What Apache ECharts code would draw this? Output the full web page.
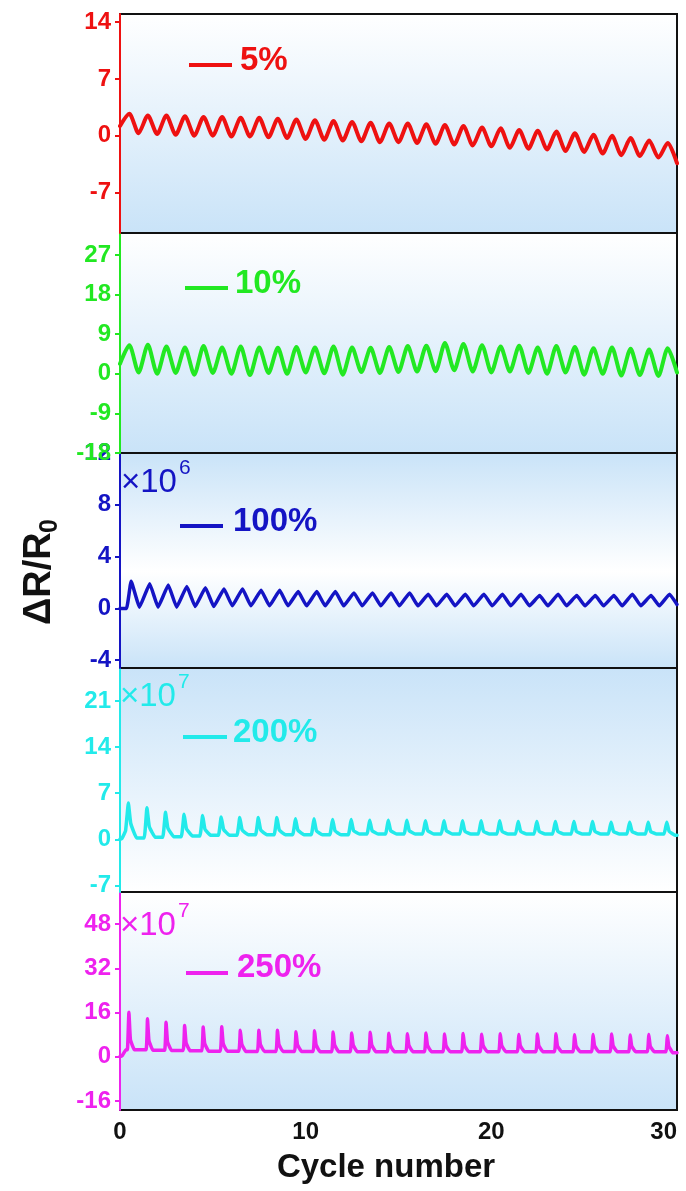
<!DOCTYPE html>
<html>
<head>
<meta charset="utf-8">
<script src="https://cdn.jsdelivr.net/npm/echarts@6/dist/echarts.min.js"></script>
<style>
  html, body { margin: 0; padding: 0; background: #ffffff; }
  #chart { width: 686px; height: 1191px; }
</style>
</head>
<body>
<div id="chart"></div>
<script>
// ---- data -------------------------------------------------------------
const cycleTicks = [0, 10, 20, 30];
const strainLabels = ['5%', '10%', '100%', '200%', '250%'];
const scaleExponents = [null, null, 6, 7, 7];

const yTicks5 = [-7, 0, 7, 14];
const yTicks10 = [-18, -9, 0, 9, 18, 27];
const yTicks100 = [-4, 0, 4, 8, 12];
const yTicks200 = [-7, 0, 7, 14, 21];
const yTicks250 = [-16, 0, 16, 32, 48];

// 5 % strain: value at start, then per-cycle peak / valley
const start5 = 1.2;
const peaks5 = [2.7, 2.5, 2.5, 2.4, 2.3, 2.3, 2.2, 2.2, 2.1, 2.0, 1.9, 1.8, 1.7, 1.6, 1.5,
                1.5, 1.4, 1.3, 1.2, 1.0, 0.9, 0.7, 0.6, 0.5, 0.3, 0.1, 0.0, -0.3, -0.6, -0.9];
const valleys5 = [0.3, 0.2, 0.1, 0.0, 0.0, -0.1, -0.1, -0.2, -0.3, -0.4, -0.5, -0.6, -0.7, -0.8, -0.8,
                  -0.9, -1.0, -1.1, -1.2, -1.3, -1.5, -1.6, -1.7, -1.9, -2.0, -2.2, -2.4, -2.5, -2.7, -3.4];

// 10 % strain
const start10 = 2.3;
const peaks10 = [6.5, 6.6, 6.2, 6.0, 6.3, 6.0, 6.2, 6.0, 5.9, 6.1, 6.0, 6.2, 6.0, 5.9, 6.1,
                 6.3, 6.4, 7.0, 6.8, 6.5, 6.2, 6.4, 6.0, 6.3, 6.1, 5.8, 6.0, 5.7, 5.5, 5.8];
const valleys10 = [0.3, 0.0, 0.2, -0.2, 0.2, 0.0, -0.3, 0.2, 0.0, 0.3, 0.1, -0.2, 0.4, 0.2, 0.4,
                   0.5, 0.6, 0.8, 0.5, 0.3, 0.5, 0.2, 0.0, 0.3, -0.2, 0.0, -0.4, -0.3, -0.5, 0.3];

// 100 % strain (x10^6)
const lead100 = [[0, 0], [0.35, 0]];
const peaks100 = [2.1, 1.9, 1.8, 1.7, 1.6, 1.5, 1.5, 1.4, 1.4, 1.3, 1.3, 1.3, 1.2, 1.2, 1.2,
                  1.2, 1.1, 1.1, 1.1, 1.1, 1.1, 1.1, 1.0, 1.1, 1.0, 1.0, 1.0, 1.1, 1.0, 1.1];
const valleys100 = [0.1, 0.1, 0.1, 0.15, 0.15, 0.2, 0.2, 0.2, 0.2, 0.2, 0.2, 0.2, 0.2, 0.2, 0.2,
                    0.2, 0.2, 0.2, 0.2, 0.2, 0.2, 0.2, 0.2, 0.2, 0.2, 0.2, 0.2, 0.2, 0.2, 0.3];

// 200 % strain (x10^7): spike, shoulder after spike, trough before next cycle
const lead200 = [[0, 0], [0.1, 0.1], [0.3, 1.3]];
const spikes200 = [5.5, 4.8, 4.1, 3.8, 3.6, 3.4, 3.3, 3.3, 3.3, 3.1, 3.1, 3.0, 3.0, 2.9, 2.9,
                   2.9, 2.8, 2.8, 2.8, 2.8, 2.8, 2.7, 2.7, 2.7, 2.7, 2.7, 2.6, 2.6, 2.6, 2.6];
const shoulders200 = [2.4, 1.9, 1.7, 1.6, 1.5, 1.5, 1.4, 1.4, 1.4, 1.4, 1.3, 1.3, 1.3, 1.3, 1.3,
                      1.3, 1.3, 1.3, 1.2, 1.2, 1.2, 1.2, 1.2, 1.2, 1.2, 1.2, 1.2, 1.2, 1.2, 1.2];
const troughs200 = [0.2, 0.3, 0.4, 0.5, 0.6, 0.6, 0.7, 0.7, 0.7, 0.7, 0.7, 0.7, 0.8, 0.8, 0.8,
                    0.8, 0.8, 0.8, 0.8, 0.8, 0.8, 0.8, 0.8, 0.8, 0.8, 0.8, 0.8, 0.8, 0.8, 0.6];

// 250 % strain (x10^7)
const lead250 = [[0, 0], [0.12, 0.4], [0.32, 2.5]];
const spikes250 = [16.1, 13.7, 12.5, 11.3, 10.7, 10.8, 9.6, 9.6, 9.6, 9.0, 9.4, 8.9, 8.6, 8.8, 8.5,
                   8.3, 8.6, 8.2, 8.4, 8.1, 8.3, 8.0, 8.2, 8.3, 7.9, 8.0, 8.2, 7.8, 8.0, 7.6];
const shoulders250 = [6.2, 5.8, 5.4, 5.0, 4.8, 4.7, 4.5, 4.4, 4.4, 4.3, 4.3, 4.2, 4.2, 4.2, 4.1,
                      4.1, 4.1, 4.0, 4.0, 4.0, 4.0, 4.0, 3.9, 3.9, 3.9, 3.9, 3.9, 3.8, 3.8, 3.8];
const troughs250 = [2.5, 2.3, 2.2, 2.1, 2.0, 2.0, 1.9, 1.9, 1.9, 1.9, 1.8, 1.8, 1.8, 1.8, 1.8,
                    1.8, 1.8, 1.8, 1.8, 1.8, 1.8, 1.8, 1.8, 1.8, 1.8, 1.8, 1.8, 1.8, 1.8, 1.4];

// ---- series builders ---------------------------------------------------
const X_MAX = 30;

// one peak and one valley per cycle
function peakValleyLine(lead, peaks, valleys, peakPhase, valleyPhase) {
  const pts = lead.map(p => p.slice());
  peaks.forEach((p, i) => {
    pts.push([i + peakPhase, p]);
    pts.push([Math.min(i + valleyPhase, X_MAX), valleys[i]]);
  });
  return pts;
}

// flat level, sharp spike, shoulder, decay to trough in every cycle
function spikeLine(lead, spikes, shoulders, troughs, ph) {
  const pts = lead.map(p => p.slice());
  let level = lead[lead.length - 1][1];
  spikes.forEach((s, i) => {
    pts.push([i + ph.pre, level]);
    pts.push([i + ph.spike, s]);
    pts.push([i + ph.shoulder, shoulders[i]]);
    pts.push([Math.min(i + ph.trough, X_MAX), troughs[i]]);
    level = troughs[i];
  });
  pts.push([X_MAX, level]);
  return pts;
}

const seriesData = [
  peakValleyLine([[0, start5]], peaks5, valleys5, 0.5, 1.0),
  peakValleyLine([[0, start10]], peaks10, valleys10, 0.5, 1.0),
  peakValleyLine(lead100, peaks100, valleys100, 0.6, 1.05),
  spikeLine(lead200, spikes200, shoulders200, troughs200, { pre: 0.3, spike: 0.45, shoulder: 0.58, trough: 0.9 }),
  spikeLine(lead250, spikes250, shoulders250, troughs250, { pre: 0.4, spike: 0.48, shoulder: 0.56, trough: 0.78 })
];

// ---- appearance --------------------------------------------------------
const FONT = 'Arial, "Liberation Sans", sans-serif';
const colors = ['#ee1111', '#22e822', '#1414c4', '#22eaea', '#ee22ee'];
const lineWidths = [4, 4, 3.5, 3.5, 3.5];
const yTicks = [yTicks5, yTicks10, yTicks100, yTicks200, yTicks250];
const yRanges = [[-12, 15], [-18, 32], [-4.6, 12], [-8, 26], [-19.3, 59.6]];
const panels = [
  { top: 14, height: 219 },
  { top: 233, height: 220 },
  { top: 453, height: 215 },
  { top: 668, height: 224 },
  { top: 892, height: 218 }
];
const BLUE = '#c9e3f8';
const gradients = [
  [[0, '#ffffff'], [1, BLUE]],
  [[0, '#ffffff'], [1, BLUE]],
  [[0, BLUE], [0.55, '#ffffff'], [1, BLUE]],
  [[0, BLUE], [1, '#ffffff']],
  [[0, '#ffffff'], [1, BLUE]]
];
// legend sample line + label placement in each panel
const legendPos = [
  { x1: 189, x2: 232, y: 65, tx: 240, ty: 61 },
  { x1: 185, x2: 228, y: 288, tx: 235, ty: 284 },
  { x1: 180, x2: 223, y: 526, tx: 233, ty: 522 },
  { x1: 183, x2: 227, y: 737, tx: 233, ty: 733 },
  { x1: 186, x2: 228, y: 973, tx: 237, ty: 968 }
];
const scalePos = [null, null, { x: 121, y: 483 }, { x: 120, y: 697 }, { x: 120, y: 926 }];

const grid = panels.map((p, i) => ({
  left: 120, width: 557, top: p.top, height: p.height,
  show: true, borderColor: '#111111', borderWidth: 2,
  backgroundColor: {
    type: 'linear', x: 0, y: 0, x2: 0, y2: 1,
    colorStops: gradients[i].map(s => ({ offset: s[0], color: s[1] }))
  }
}));

const xAxis = panels.map((p, i) => {
  const last = i === panels.length - 1;
  return {
    gridIndex: i, type: 'value', min: 0, max: X_MAX, interval: 10,
    axisLine: { show: false }, axisTick: { show: false }, splitLine: { show: false },
    axisLabel: {
      show: last, customValues: cycleTicks, color: '#111111', fontSize: 24,
      fontWeight: 'bold', fontFamily: FONT, margin: 10, alignMaxLabel: 'right'
    }
  };
});

const yAxis = panels.map((p, i) => ({
  gridIndex: i, type: 'value', min: yRanges[i][0], max: yRanges[i][1],
  axisLine: { show: true, lineStyle: { color: colors[i], width: 2 } },
  axisTick: { show: true, inside: false, length: 5, customValues: yTicks[i], lineStyle: { color: colors[i], width: 2 } },
  axisLabel: { customValues: yTicks[i], color: colors[i], fontSize: 24, fontWeight: 'bold', fontFamily: FONT, margin: 9 },
  splitLine: { show: false },
  z: 10 - i
}));

const series = seriesData.map((d, i) => ({
  type: 'line', xAxisIndex: i, yAxisIndex: i, data: d,
  showSymbol: false, smooth: i < 2 ? 0.25 : 0.1,
  lineStyle: { color: colors[i], width: lineWidths[i], join: 'round', cap: 'round' },
  itemStyle: { color: colors[i] },
  z: 5
}));

const graphic = [];
strainLabels.forEach((lab, i) => {
  const lp = legendPos[i];
  graphic.push({
    type: 'line', silent: true, z: 20,
    shape: { x1: lp.x1, y1: lp.y, x2: lp.x2, y2: lp.y },
    style: { stroke: colors[i], lineWidth: 4 }
  });
  graphic.push({
    type: 'text', silent: true, z: 20, x: lp.tx, y: lp.ty,
    style: { text: lab, fill: colors[i], font: 'bold 33px ' + FONT, textAlign: 'left', textVerticalAlign: 'middle' }
  });
  if (scaleExponents[i] !== null) {
    const sp = scalePos[i];
    graphic.push({
      type: 'text', silent: true, z: 20, x: sp.x, y: sp.y,
      style: { text: '\u00d710', fill: colors[i], font: '33px ' + FONT, textAlign: 'left', textVerticalAlign: 'middle' }
    });
    graphic.push({
      type: 'text', silent: true, z: 20, x: sp.x + 58, y: sp.y - 15,
      style: { text: String(scaleExponents[i]), fill: colors[i], font: '21px ' + FONT, textAlign: 'left', textVerticalAlign: 'middle' }
    });
  }
});

// y-axis title, rotated to read bottom to top
graphic.push({
  type: 'group', x: 40, y: 573, rotation: Math.PI / 2, silent: true,
  children: [
    { type: 'text', x: -52, y: 0, style: { text: '\u0394R/R', fill: '#111111', font: 'bold 38px ' + FONT, textAlign: 'left', textVerticalAlign: 'middle' } },
    { type: 'text', x: 40, y: 10, style: { text: '0', fill: '#111111', font: 'bold 25px ' + FONT, textAlign: 'left', textVerticalAlign: 'middle' } }
  ]
});
// x-axis title
graphic.push({
  type: 'text', x: 386, y: 1168, silent: true,
  style: { text: 'Cycle number', fill: '#111111', font: 'bold 33px ' + FONT, textAlign: 'center', textVerticalAlign: 'middle' }
});

const chart = echarts.init(document.getElementById('chart'), null, { renderer: 'canvas' });
chart.setOption({
  animation: false,
  backgroundColor: '#ffffff',
  grid, xAxis, yAxis, series, graphic
});
</script>
</body>
</html>
